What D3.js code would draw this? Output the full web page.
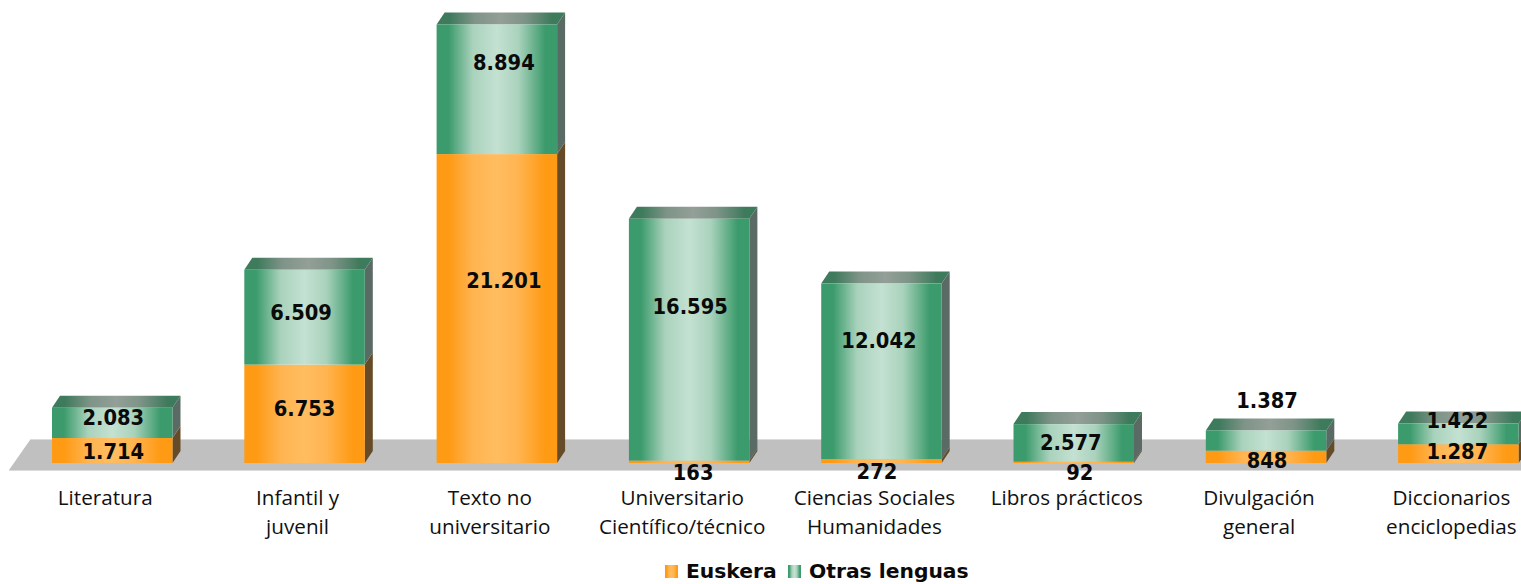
<!DOCTYPE html>
<html>
<head>
<meta charset="utf-8">
<script src="https://cdn.jsdelivr.net/npm/d3@7"></script>
<style>
html, body { margin: 0; padding: 0; background: #fff; overflow: hidden; }
svg { display: block; }
</style>
</head>
<body>
<svg id="chart" width="1521" height="584"></svg>
<script>
const categories = [
  ['Literatura'],
  ['Infantil y', 'juvenil'],
  ['Texto no', 'universitario'],
  ['Universitario', 'Científico/técnico'],
  ['Ciencias Sociales', 'Humanidades'],
  ['Libros prácticos'],
  ['Divulgación', 'general'],
  ['Diccionarios', 'enciclopedias']
];
const euskera = [1714, 6753, 21201, 163, 272, 92, 848, 1287];
const otras = [2083, 6509, 8894, 16595, 12042, 2577, 1387, 1422];
const seriesNames = ['Euskera', 'Otras lenguas'];

const svg = d3.select('svg#chart');
const baseY = 463;
const depthX = 8;
const depthY = 12;

const xScale = d3.scaleBand()
  .domain(d3.range(categories.length))
  .range([16.1, 1554.5])
  .paddingInner(0.3734)
  .paddingOuter(0.1867);
const yScale = d3.scaleLinear().domain([0, 30095]).range([baseY, 24.5]);
const fmt = v => d3.format(',')(v).replace(/,/g, '.');

const defs = svg.append('defs');
function addGradient(id, edge, mid, center) {
  const grad = defs.append('linearGradient').attr('id', id);
  [[0, edge], [10, edge], [30, mid], [50, center], [68, mid], [90, edge], [100, edge]].forEach(s => {
    grad.append('stop').attr('offset', s[0] + '%').attr('stop-color', s[1]);
  });
}
addGradient('orangeFront', '#ff9a14', '#ffb450', '#ffbd60');
addGradient('greenFront', '#3c9b6c', '#a9d2bc', '#c4e1d2');
addGradient('greenTop', '#3e7a5c', '#7f9488', '#939f98');

// floor
svg.append('path')
  .attr('d', 'M9,470 L30,440 L1521,440 L1521,470 Z')
  .attr('fill', '#c0c0c0');
svg.append('path')
  .attr('d', 'M9,470.5 L1521,470.5 M30,439.5 L1521,439.5')
  .attr('stroke', '#dcdcdc')
  .attr('fill', 'none');

// bars
const bars = svg.selectAll('g.bar')
  .data(d3.range(categories.length))
  .join('g')
  .attr('class', 'bar');

bars.each(function(i) {
  const g = d3.select(this);
  const x0 = xScale(i);
  const x1 = x0 + xScale.bandwidth();
  const yMid = yScale(euskera[i]);
  const yTop = yScale(euskera[i] + otras[i]);

  g.append('path') // side, lower part
    .attr('d', `M${x1},${baseY} L${x1 + depthX},${baseY - depthY} L${x1 + depthX},${yMid - depthY} L${x1},${yMid} Z`)
    .attr('fill', '#664b28');
  g.append('path') // side, upper part
    .attr('d', `M${x1},${yMid} L${x1 + depthX},${yMid - depthY} L${x1 + depthX},${yTop - depthY} L${x1},${yTop} Z`)
    .attr('fill', '#5a6a65');
  g.append('path') // top
    .attr('d', `M${x0},${yTop} L${x0 + depthX},${yTop - depthY} L${x1 + depthX},${yTop - depthY} L${x1},${yTop} Z`)
    .attr('fill', 'url(#greenTop)');
  g.append('rect')
    .attr('x', x0).attr('y', yMid)
    .attr('width', xScale.bandwidth()).attr('height', baseY - yMid)
    .attr('fill', 'url(#orangeFront)');
  g.append('rect')
    .attr('x', x0).attr('y', yTop)
    .attr('width', xScale.bandwidth()).attr('height', yMid - yTop)
    .attr('fill', 'url(#greenFront)');
});

// value labels, nudged by hand from the middle of each segment
const euskeraNudge = [[1, 1.5], [0, -5], [7, -28], [4, 11], [-4.5, 11], [6, 10], [1, 4], [-1, -1.5]];
const otrasNudge = [[1, -5], [-3.5, -4], [7, -27], [1, -33], [-2.5, -31], [-3, 0], [1, -40], [-1, -13]];
const labelLayer = svg.append('g')
  .attr('font-family', '"DejaVu Sans", sans-serif')
  .attr('font-weight', 'bold')
  .attr('font-size', 21)
  .attr('fill', '#0a0a0a')
  .attr('text-anchor', 'middle')
  .attr('dominant-baseline', 'central');
function addValue(x, y, value) {
  labelLayer.append('text')
    .attr('transform', `translate(${x},${y}) scale(0.93,1)`)
    .text(fmt(value));
}
d3.range(categories.length).forEach(i => {
  const cx = xScale(i) + xScale.bandwidth() / 2;
  const lowMid = (yScale(0) + yScale(euskera[i])) / 2;
  const upMid = (yScale(euskera[i]) + yScale(euskera[i] + otras[i])) / 2;
  addValue(cx + euskeraNudge[i][0], lowMid + euskeraNudge[i][1], euskera[i]);
  addValue(cx + otrasNudge[i][0], upMid + otrasNudge[i][1], otras[i]);
});

// category axis
const axis = svg.append('g')
  .attr('transform', 'translate(-7,490)')
  .call(d3.axisBottom(xScale).tickSize(0).tickFormat(''));
axis.select('.domain').remove();
axis.selectAll('.tick text')
  .attr('y', 0).attr('dy', null)
  .attr('font-family', '"Open Sans", sans-serif')
  .attr('font-size', 20.7)
  .attr('fill', '#111')
  .each(function(i) {
    const t = d3.select(this);
    categories[i].forEach((line, k) => {
      t.append('tspan').attr('x', 0).attr('y', 15 + k * 29).text(line);
    });
  });

// legend
const legend = svg.append('g')
  .attr('font-family', '"DejaVu Sans", sans-serif')
  .attr('font-weight', 'bold')
  .attr('font-size', 20.3)
  .attr('fill', '#0a0a0a');
const legendX = [665, 788];
seriesNames.forEach((name, i) => {
  legend.append('rect')
    .attr('x', legendX[i]).attr('y', 565)
    .attr('width', 13).attr('height', 13)
    .attr('fill', i === 0 ? 'url(#orangeFront)' : 'url(#greenFront)');
  legend.append('text')
    .attr('x', legendX[i] + 21).attr('y', 578)
    .text(name);
});
</script>
</body>
</html>
